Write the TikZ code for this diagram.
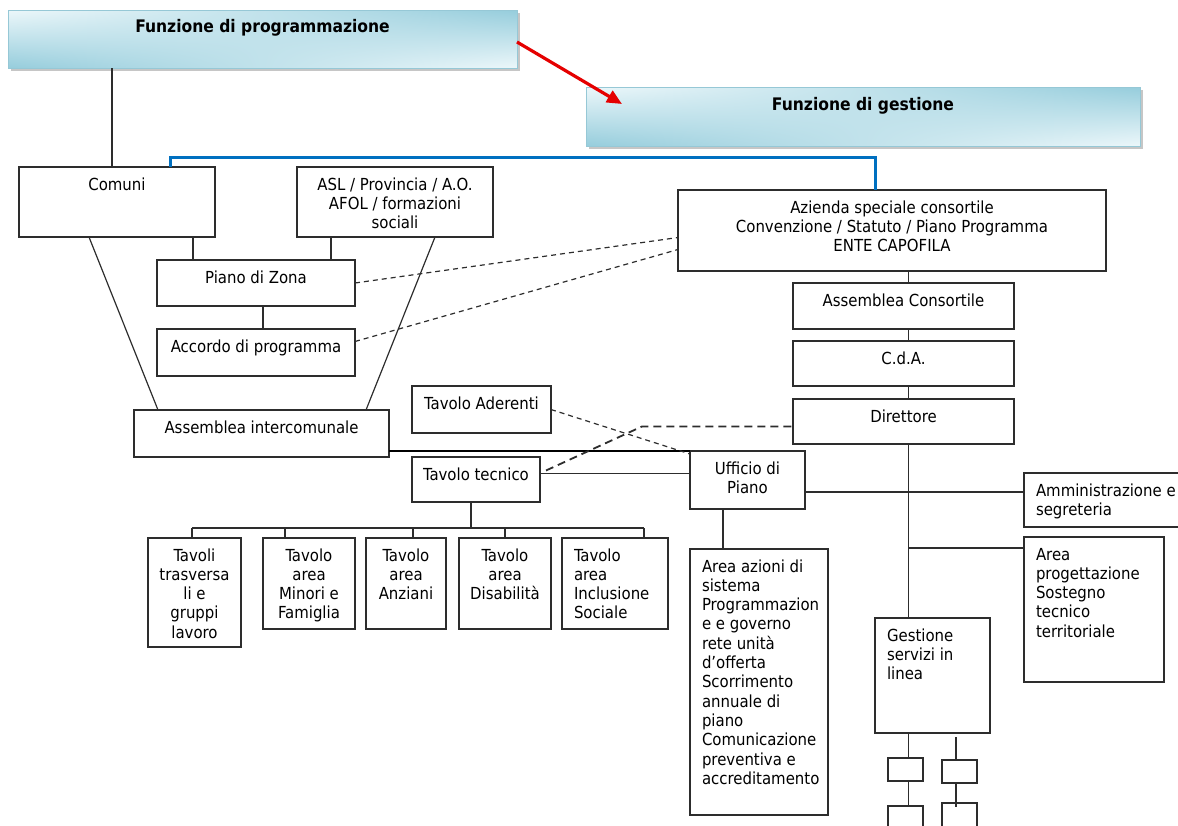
\documentclass[tikz,border=0pt]{standalone}
\usepackage{fontspec}
\setmainfont{DejaVu Sans Condensed}
\usetikzlibrary{arrows.meta,shadows,shadings}

\definecolor{hdark}{RGB}{150,205,220}
\definecolor{hlight}{RGB}{236,247,250}
\definecolor{hedge}{RGB}{150,200,214}
\definecolor{conn}{RGB}{0,112,192}
\definecolor{ink}{RGB}{45,45,45}

% text settings for all boxes
\newcommand\bxfont{\fontsize{16.6pt}{19.3pt}\selectfont}
\newcommand\topstrut{\rule{0pt}{23pt}}
\newcommand\ctr{\centering}
\newcommand\lft{\raggedright\leftskip=12pt\relax}
\newcommand\hdtxt{\centering\fontsize{17.3pt}{20pt}\selectfont\bfseries}

% \ob[style]{name}{x1}{y1}{x2}{y2}{alignment}{text}: box with text set from its top
\newcommand\ob[8][]{\node[bx,#1] (#2) at (#3,#4)
  {\parbox[t][\dimexpr #6pt-#4pt\relax][t]{\dimexpr #5pt-#3pt\relax}{\bxfont#7\topstrut#8}};}

\tikzset{
  bx/.style={draw=ink, line width=1.2pt, anchor=north west, inner sep=0pt, outer sep=0pt, text=black},
  % header fill: darker towards lower left and upper right corners
  hdr/.style={draw=hedge, line width=0.8pt, shading=bilinear interpolation,
              lower left=hdark, upper right=hdark, upper left=hlight, lower right=hlight,
              drop shadow={shadow xshift=2.5pt, shadow yshift=-2.5pt, opacity=0.45, fill=gray}},
  link/.style={draw=ink, line width=1.2pt},
  heavy/.style={draw=black, line width=2.6pt},
  dsh/.style={draw=ink, line width=1.2pt, dash pattern=on 5pt off 4pt},
  dshb/.style={draw=ink, line width=1.8pt, dash pattern=on 8pt off 5pt},
  bluelink/.style={draw=conn, line width=3pt},
  redarrow/.style={draw=red!90!black, line width=3.2pt, -{Triangle[length=15pt,width=13pt]}}
}

\begin{document}
\begin{tikzpicture}[x=1pt,y=-1pt]
\useasboundingbox (0,0) rectangle (1178,825);
\clip (0,0) rectangle (1178,825);

% headers
\ob[hdr]{prog}{8}{10}{517}{68}{\hdtxt\renewcommand\topstrut{\rule{0pt}{22pt}}}{Funzione di programmazione}
\ob[hdr]{gest}{586}{87}{1140}{146}{\hdtxt}{Funzione di gestione}

% planning side
\ob{comuni}{19}{167}{215}{237}{\ctr}{Comuni}
\ob{asl}{297}{167}{493}{237}{\ctr}{ASL / Provincia / A.O.\\AFOL / formazioni\\sociali}
\ob{pdz}{157}{260}{355}{306}{\ctr}{Piano di Zona}
\ob{adp}{157}{329}{355}{376}{\ctr}{Accordo di programma}
\ob{ai}{134}{410}{389}{457}{\ctr}{Assemblea intercomunale}
\ob{tad}{412}{386}{551}{433}{\ctr}{Tavolo Aderenti}
\ob{tt}{412}{457}{540}{502}{\ctr}{Tavolo tecnico}
\ob{udp}{690}{451}{805}{509}{\ctr}{Ufficio di\\Piano}

% management side
\ob{az}{678}{190}{1106}{271}{\ctr}{Azienda speciale consortile\\Convenzione / Statuto / Piano Programma\\ENTE CAPOFILA}
\ob{ac}{793}{283}{1014}{329}{\ctr}{Assemblea Consortile}
\ob{cda}{793}{341}{1014}{386}{\ctr}{C.d.A.}
\ob{dir}{793}{399}{1014}{444}{\ctr}{Direttore}
\ob{amm}{1024}{473}{1190}{527}{\lft}{Amministrazione e\\segreteria}
\ob{ap}{1024}{537}{1164}{682}{\lft}{Area\\progettazione\\Sostegno\\tecnico\\territoriale}
\ob{aa}{690}{549}{828}{815}{\lft}{Area azioni di\\sistema\\Programmazion\\e e governo\\rete unità\\d’offerta\\Scorrimento\\annuale di\\piano\\Comunicazione\\preventiva e\\accreditamento}
\ob{gs}{875}{618}{990}{733}{\lft}{Gestione\\servizi in\\linea}
\ob{s1}{888}{758}{923}{781}{\ctr}{}
\ob{s2}{942}{760}{977}{783}{\ctr}{}
\ob{s3}{888}{806}{923}{845}{\ctr}{}
\ob{s4}{942}{803}{977}{845}{\ctr}{}

% thematic tables
\ob{t1}{148}{538}{241}{647}{\ctr}{Tavoli\\trasversa\\li e\\gruppi\\lavoro}
\ob{t2}{263}{538}{355}{629}{\ctr}{Tavolo\\area\\Minori e\\Famiglia}
\ob{t3}{366}{538}{446}{629}{\ctr}{Tavolo\\area\\Anziani}
\ob{t4}{459}{538}{551}{629}{\ctr}{Tavolo\\area\\Disabilità}
\ob{t5}{562}{538}{668}{629}{\lft}{Tavolo\\area\\Inclusione\\Sociale}

% top connectors
\draw[redarrow] ([yshift=-3pt]prog.east) -- ([xshift=36pt,yshift=-17pt]gest.north west);
\draw[link] ([xshift=104pt]prog.south west) -- ([xshift=93pt]comuni.north west);
\draw[bluelink] ([xshift=151pt]comuni.north west) |- ([xshift=197pt,yshift=33pt]az.north west)
  -- ([xshift=197pt]az.north west);

% planning connectors
\draw[link] ([xshift=70pt]comuni.south west) -- ([xshift=24pt]ai.north west);
\draw[link] ([xshift=138pt]asl.south west) -- ([xshift=232pt]ai.north west);
\draw[link] ([xshift=36pt]pdz.north west) -- ([xshift=36pt]pdz.north west |- comuni.south);
\draw[link] ([xshift=174pt]pdz.north west) -- ([xshift=174pt]pdz.north west |- asl.south);
\draw[link] ([xshift=106pt]pdz.south west) -- ([xshift=106pt]pdz.south west |- adp.north);
\draw[dsh] (pdz.east) -- ([yshift=-7pt]az.west);
\draw[dsh] ([yshift=11pt]adp.east) -- ([yshift=-19pt]az.west);
\draw[heavy] (ai.east |- udp.north) -- (udp.north west);
\draw[link] ([yshift=6pt]tt.east) -- ([yshift=6pt]tt.east -| udp.west);
\draw[dsh] (tad.east) -- ([yshift=-3pt]udp.north west);
\draw[dshb] ([xshift=6pt,yshift=9pt]tt.east) -- ([xshift=-151pt,yshift=-5pt]dir.west) -- ([yshift=-5pt]dir.west);

% tables bus
\coordinate (busL) at (192,528);
\coordinate (busR) at (644,528);
\draw[link] (busL) -- (busR);
\draw[link] ([xshift=59pt]tt.south west) -- ([xshift=59pt]tt.south west |- busL);
\draw[link] (busL) -- (busL |- t1.north);
\draw[link] ([xshift=22pt]t2.north west) -- ([xshift=22pt]t2.north west |- busL);
\draw[link] ([xshift=47pt]t3.north west) -- ([xshift=47pt]t3.north west |- busL);
\draw[link] ([xshift=46pt]t4.north west) -- ([xshift=46pt]t4.north west |- busL);
\draw[link] (busR) -- (busR |- t5.north);

% management connectors
\coordinate (dv) at (908.5,0);
\draw[link] (dv |- az.south) -- (dv |- ac.north);
\draw[link] (dv |- ac.south) -- (dv |- cda.north);
\draw[link] (dv |- cda.south) -- (dv |- dir.north);
\draw[link] (dv |- dir.south) -- (dv |- gs.north);
\draw[link] ([yshift=-11pt]ap.north west) -- ([yshift=-11pt]ap.north west -| dv);
\draw[link] ([yshift=-12pt]udp.east) -- ([yshift=-12pt]udp.east -| amm.west);
\draw[link] ([xshift=33pt]udp.south west) -- ([xshift=33pt]udp.south west |- aa.north);
\draw[link] (dv |- gs.south) -- (dv |- s1.north);
\draw[link] (dv |- s1.south) -- (dv |- s3.north);
\coordinate (gsr) at (956,737);
\draw[link] (gsr) -- (gsr |- s2.north);
\draw[link] (gsr |- s2.south) -- ([yshift=-4pt]gsr |- s4.north);
\end{tikzpicture}
\end{document}
